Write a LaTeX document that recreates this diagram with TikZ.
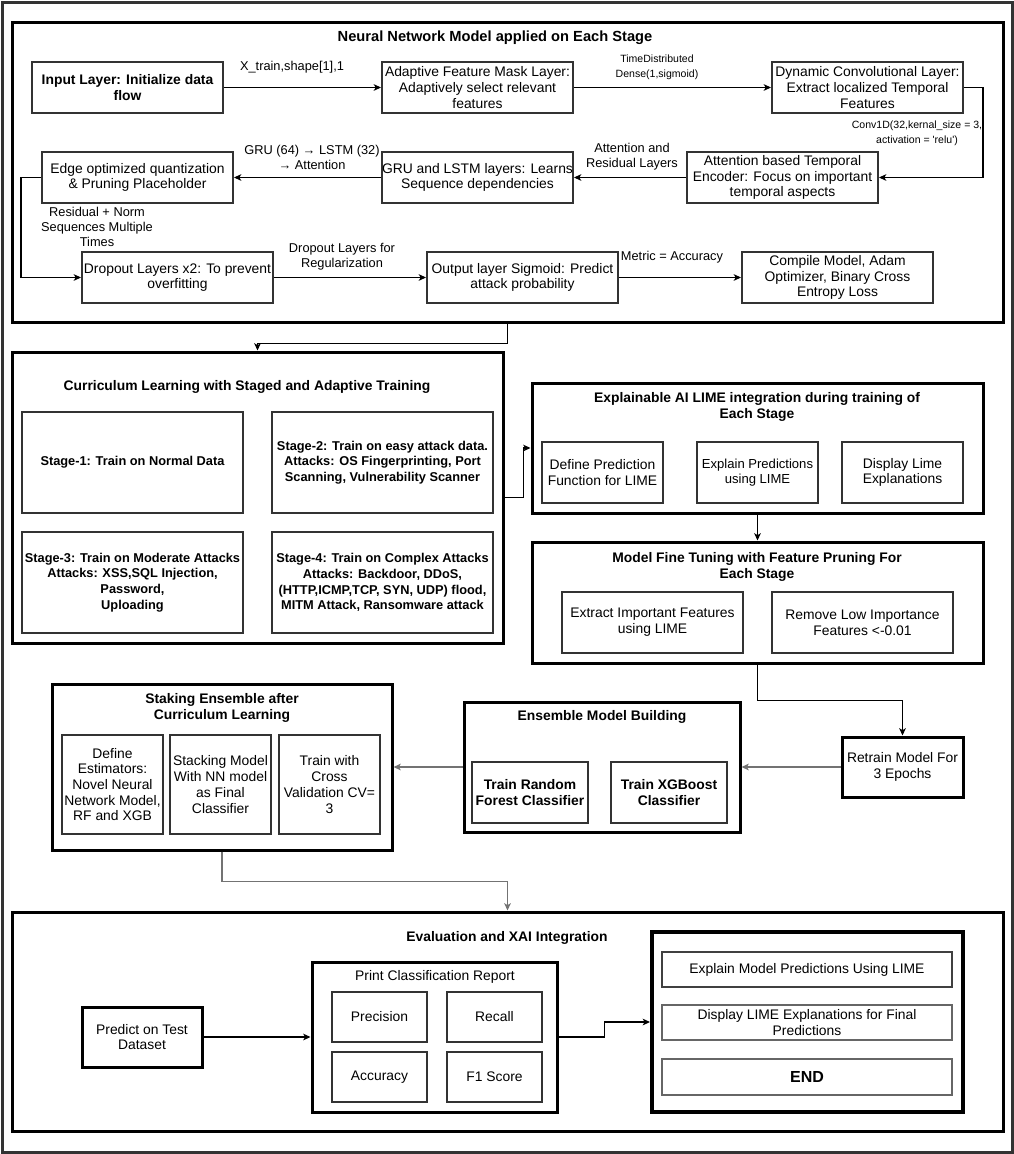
\documentclass[tikz,border=0pt]{standalone}
\usepackage{fontspec}
\setmainfont{Liberation Sans}
\usetikzlibrary{arrows.meta}
\newcommand\bodyf{\fontsize{10.4}{11.8}\selectfont}
\newcommand\stgf{\fontsize{9.6}{11.8}\selectfont\bfseries}
\newcommand\lblf{\fontsize{9.6}{11.2}\selectfont}
\newcommand\tinyf{\fontsize{7.9}{11.2}\selectfont}
\newcommand\ttlf{\fontsize{10.4}{12.2}\selectfont\bfseries}
% box from corner (x1,y1) to (x2,y2) in reference pixels
\newcommand\bxat[7][]{\node[#1, minimum width={(#5-#3)*0.75pt}, minimum height={(#6-#4)*0.75pt}] (#2) at ({(#3+#5)/2},{(#4+#6)/2}) {#7};}
\begin{document}
\begin{tikzpicture}[x=0.75pt,y=-0.75pt,
  frame/.style={draw=black, line width=2.25pt, inner sep=0pt},
  bx/.style={draw=black!80, line width=1.5pt, inner sep=0pt, align=center, font=\bodyf},
  hbx/.style={bx, line width=2.25pt, draw=black},
  tbx/.style={bx, line width=1pt, draw=black!75},
  stg/.style={bx, font=\stgf},
  lbl/.style={align=center, font=\lblf, inner sep=0pt},
  tlbl/.style={align=center, font=\tinyf, inner sep=0pt},
  ttl/.style={align=center, font=\ttlf, inner sep=0pt},
  arr/.style={draw=black, line width=0.8pt, -{Stealth[length=5.5pt,width=5pt,inset=1.5pt]}},
  garr/.style={arr, draw=black!55, line width=1.1pt},
]
\useasboundingbox (0,0) rectangle (1014,1154);
\bxat[frame, draw=black!80]{outer}{2}{2}{1012}{1152}{}

% ---------- Section 1 ----------
\bxat[frame]{s1}{12}{22}{1003}{322}{}
\node[ttl, font=\fontsize{11}{13}\selectfont\bfseries] (t1) at (495,38) {Neural Network Model applied on Each Stage};
\bxat[bx]{in}{32}{62}{223}{113}{\bfseries Input Layer: Initialize data\\\bfseries flow}
\bxat[bx]{ad}{382}{62}{573}{113}{Adaptive Feature Mask Layer:\\Adaptively select relevant\\features}
\bxat[bx]{dc}{772}{62}{963}{113}{Dynamic Convolutional Layer:\\Extract localized Temporal\\Features}
\bxat[bx]{att}{687}{152}{878}{203}{Attention based Temporal\\Encoder: Focus on important\\temporal aspects}
\bxat[bx]{gru}{382}{152}{573}{203}{GRU and LSTM layers: Learns\\Sequence dependencies}
\bxat[bx]{edge}{42}{152}{233}{203}{Edge optimized quantization\\\& Pruning Placeholder}
\bxat[bx]{drop}{82}{252}{273}{303}{Dropout Layers x2: To prevent\\overfitting}
\bxat[bx]{out}{427}{252}{618}{303}{Output layer Sigmoid: Predict\\attack probability}
\bxat[bx]{comp}{742}{252}{933}{303}{Compile Model, Adam\\Optimizer, Binary Cross\\Entropy Loss}

\draw[arr] (in.east) -- (ad.west);
\node[lbl] (l1) at (292,67) {X\_train,shape[1],1};
\draw[arr] (ad.east) -- (dc.west);
\node[tlbl] (l2) at (657,67.5) {TimeDistributed\\Dense(1,sigmoid)};
\draw[arr] (dc.east) -- ++(19,0) |- (att.east);
\node[tlbl] (l3) at (917,133.5) {Conv1D(32,kernal\_size = 3,\\activation = \textquotesingle relu\textquotesingle)};
\draw[arr] (att.west) -- (gru.east);
\node[lbl] (l4) at (632,157) {Attention and\\Residual Layers};
\draw[arr] (gru.west) -- (edge.east);
\node[lbl] (l5) at (312,157) {GRU (64) → LSTM (32)\\→ Attention};
\draw[arr] (edge.west) -- ++(-20,0) |- (drop.west);
\node[lbl] (l6) at (97,226.5) {Residual + Norm\\Sequences Multiple\\Times};
\draw[arr] (drop.east) -- (out.west);
\node[lbl] (l7) at (342,257) {Dropout Layers for\\Regularization};
\draw[arr] (out.east) -- (comp.west);
\node[lbl] (l8) at (672,257) {Metric = Accuracy};

% ---------- Section 2 ----------
\bxat[frame]{s2}{12}{352}{503}{643}{}
\node[ttl] (t2) at (247,387) {Curriculum Learning with Staged and Adaptive Training};
\bxat[stg]{st1}{22}{412}{243}{513}{Stage-1: Train on Normal Data}
\bxat[stg]{st2}{272}{412}{493}{513}{Stage-2: Train on easy attack data.\\Attacks: OS Fingerprinting, Port\\Scanning, Vulnerability Scanner}
\bxat[stg]{st3}{22}{532}{243}{633}{Stage-3: Train on Moderate Attacks\\Attacks: XSS,SQL Injection,\\Password,\\Uploading}
\bxat[stg]{st4}{272}{532}{493}{633}{Stage-4: Train on Complex Attacks\\Attacks: Backdoor, DDoS,\\(HTTP,ICMP,TCP, SYN, UDP) flood,\\MITM Attack, Ransomware attack}
\draw[arr] (s1.south) -- ++(0,20) -| (s2.north);

% ---------- Section 3 ----------
\bxat[frame]{s3}{532}{383}{983}{513}{}
\node[ttl] (t3) at (757,407) {Explainable AI LIME integration during training of\\Each Stage};
\bxat[bx]{dp}{542}{442}{663}{503}{Define Prediction\\Function for LIME}
\bxat[bx, font=\fontsize{9.8}{11.5}\selectfont]{ep}{697}{442}{818}{503}{Explain Predictions\\using LIME}
\bxat[bx]{dl}{842}{442}{963}{503}{Display Lime\\Explanations}
\draw[arr] (s2.east) -- ++(19,0) |- (s3.west);

% ---------- Section 4 ----------
\bxat[frame]{s4}{532}{542}{983}{663}{}
\node[ttl] (t4) at (757,567) {Model Fine Tuning with Feature Pruning For\\Each Stage};
\bxat[bx]{ex}{562}{592}{743}{653}{Extract Important Features\\using LIME}
\bxat[bx]{rm}{772}{592}{953}{653}{Remove Low Importance\\Features <-0.01}
\draw[arr] (s3.south) -- (s4.north);

% ---------- Retrain / Ensemble / Stacking ----------
\bxat[hbx]{rt}{842}{737}{963}{797}{Retrain Model For\\3 Epochs}
\draw[arr] (s4.south) -- ++(0,36) -| (rt.north);

\bxat[frame]{ens}{464}{702}{740}{832}{}
\node[ttl] (t5) at (602,717) {Ensemble Model Building};
\bxat[bx]{rfc}{472}{762}{588}{823}{\bfseries Train Random\\\bfseries Forest Classifier}
\bxat[bx]{xgb}{611}{762}{727}{823}{\bfseries Train XGBoost\\\bfseries Classifier}
\draw[garr] (rt.west) -- (ens.east);

\bxat[frame]{stk}{52}{684}{392}{850}{}
\node[ttl] (t6) at (222,708) {Staking Ensemble after\\Curriculum Learning};
\bxat[bx]{de}{62}{735}{163}{834}{Define\\Estimators:\\Novel Neural\\Network Model,\\RF and XGB}
\bxat[bx]{sm}{170}{735}{271}{834}{Stacking Model\\With NN model\\as Final\\Classifier}
\bxat[bx]{tc}{279}{735}{380}{834}{Train with\\Cross\\Validation CV=\\3}
\draw[garr] (ens.west) -- (stk.east);

% ---------- Section 6 ----------
\bxat[frame]{s6}{12}{912}{1003}{1131}{}
\node[ttl] (t7) at (507,938) {Evaluation and XAI Integration};
\draw[garr] (stk.south) -- ++(0,30) -| (s6.north);
\bxat[hbx]{pred}{82}{1007}{202}{1067}{Predict on Test\\Dataset}
\bxat[frame]{pcr}{312}{962}{557}{1112}{}
\node[lbl, font=\bodyf] (t8) at (435,977) {Print Classification Report};
\bxat[bx]{prec}{332}{992}{427}{1042}{Precision}
\bxat[bx]{rec}{447}{992}{542}{1042}{Recall}
\bxat[bx]{acc}{332}{1052}{427}{1102}{Accuracy}
\bxat[bx]{f1}{447}{1052}{542}{1102}{F1 Score}
\draw[arr] (pred.east) -- (pcr.west);

\bxat[frame, line width=3pt]{rfr}{652}{932}{963}{1112}{}
\bxat[tbx]{exm}{662}{952}{952}{987}{Explain Model Predictions Using LIME}
\bxat[tbx, draw=black!60]{dsp}{662}{1005}{952}{1040}{Display LIME Explanations for Final\\Predictions}
\bxat[tbx, draw=black!60, font=\fontsize{12}{14}\selectfont\bfseries]{endn}{662}{1059}{952}{1095}{END}
\draw[arr] (pcr.east) -- ++(46,0) |- (rfr.west);
\end{tikzpicture}
\end{document}
